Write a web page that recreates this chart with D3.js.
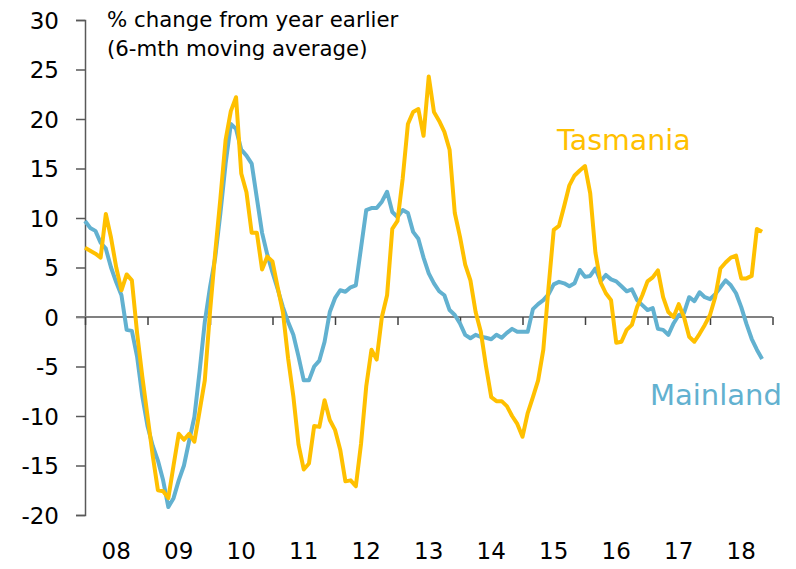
<!DOCTYPE html>
<html>
<head>
<meta charset="utf-8">
<script src="https://cdn.jsdelivr.net/npm/d3@7"></script>
<style>
  html, body { margin: 0; padding: 0; background: #ffffff; }
  svg { display: block; }
</style>
</head>
<body>
<div id="chart"></div>
<script>
// Monthly data, Jan 2008 onward (% change from year earlier, 6-mth moving average)
const startYear = 2008;
const yearLabels = ["08","09","10","11","12","13","14","15","16","17","18"];
const yTicks = [-20,-15,-10,-5,0,5,10,15,20,25,30];

const tasmania = [
  7.0, 6.7, 6.4, 6.0, 10.4, 8.0, 5.0, 2.7, 4.3, 3.7, -1.6, -6.0,
  -10.0, -14.0, -17.5, -17.6, -18.3, -15.0, -11.8, -12.4, -11.8, -12.6, -9.5, -6.4,
  0.5, 6.5, 12.0, 17.9, 20.8, 22.2, 14.5, 12.6, 8.5, 8.5, 4.8, 6.1,
  5.6, 3.0, 0.5, -4.2, -8.0, -12.9, -15.4, -14.8, -11.0, -11.1, -8.4, -10.4,
  -11.4, -13.4, -16.6, -16.5, -17.1, -12.8, -7.0, -3.3, -4.3, 0.0, 2.2, 8.9,
  9.7, 14.0, 19.5, 20.7, 21.0, 18.3, 24.3, 20.7, 19.8, 18.7, 16.9, 10.5,
  8.1, 5.3, 3.7, 0.5, -1.5, -5.0, -8.1, -8.5, -8.5, -9.0, -10.0, -10.8,
  -12.1, -9.7, -8.1, -6.4, -3.3, 3.0, 8.8, 9.2, 11.2, 13.3, 14.3, 14.8,
  15.25, 12.5, 6.5, 3.5, 2.4, 1.7, -2.6, -2.5, -1.3, -0.8, 1.0, 2.2,
  3.6, 4.0, 4.7, 2.0, 0.5, 0.0, 1.3, 0.0, -2.0, -2.5, -1.7, -0.8,
  0.2, 2.0, 4.9, 5.5, 6.0, 6.2, 3.9, 3.9, 4.15, 8.9, 8.6
];

const mainland = [
  9.7, 9.0, 8.7, 7.5, 6.9, 5.0, 3.5, 2.2, -1.3, -1.4, -4.0, -8.0,
  -11.0, -13.0, -14.5, -16.5, -19.2, -18.3, -16.5, -15.0, -12.5, -10.1, -5.5, -0.5,
  3.0, 6.0, 10.5, 15.5, 19.5, 19.0, 16.9, 16.3, 15.5, 12.0, 8.5, 6.3,
  4.5, 2.8, 1.0, -0.5, -1.8, -4.0, -6.4, -6.4, -5.0, -4.4, -2.5, 0.5,
  1.9, 2.7, 2.55, 3.0, 3.2, 7.0, 10.8, 11.0, 11.0, 11.65, 12.65, 10.6,
  10.1, 10.8, 10.5, 8.6, 7.9, 6.0, 4.4, 3.4, 2.6, 2.2, 0.7, 0.2,
  -0.65, -1.8, -2.15, -1.8, -2.0, -2.1, -2.25, -1.8, -2.1, -1.6, -1.2, -1.5,
  -1.5, -1.5, 0.8, 1.3, 1.7, 2.3, 3.3, 3.55, 3.4, 3.1, 3.4, 4.75,
  4.05, 4.15, 4.9, 3.6, 4.25, 3.8, 3.6, 3.1, 2.6, 2.8, 1.7, 1.2,
  0.7, 0.9, -1.2, -1.3, -1.8, -0.65, 0.2, 0.4, 2.0, 1.6, 2.5, 2.0,
  1.8, 2.3, 3.0, 3.7, 3.2, 2.4, 1.0, -0.7, -2.2, -3.3, -4.25
];

const W = 796, H = 569;
const FONT = "'DejaVu Sans', sans-serif";
const yellow = "#FFC000";
const blue = "#62B1D0";

const svg = d3.select("#chart").append("svg")
  .attr("width", W).attr("height", H);

const x = d3.scaleLinear().domain([0, yearLabels.length * 12]).range([85, 772.5]);
const y = d3.scaleLinear().domain([-20, 30]).range([515, 20]);

// Y axis
const yAxis = d3.axisLeft(y).tickValues(yTicks).tickSize(9).tickPadding(17)
  .tickFormat(d => String(d));
const gy = svg.append("g").attr("transform", `translate(${x(0)},0)`).call(yAxis);
gy.select(".domain").attr("stroke", "#595959").attr("stroke-width", 1.5);
gy.selectAll(".tick line").attr("stroke", "#595959").attr("stroke-width", 1.5);
gy.selectAll(".tick text").attr("font-family", FONT).attr("font-size", 23)
  .attr("fill", "#000").attr("dy", "0.36em");

// X axis at zero
const xTickVals = d3.range(0, yearLabels.length * 12 + 1, 12);
const xAxis = d3.axisBottom(x).tickValues(xTickVals).tickSize(8).tickFormat("").tickSizeOuter(0);
const gx = svg.append("g").attr("transform", `translate(0,${y(0)})`).call(xAxis);
gx.select(".domain").attr("stroke", "#808080").attr("stroke-width", 2.2)
  .attr("d", `M${x(0) - 9},0H${x(yearLabels.length * 12)}`);
gx.selectAll(".tick line").attr("stroke", "#404040").attr("stroke-width", 1.5);

// Year labels, centred within each year
svg.append("g").selectAll("text").data(yearLabels).join("text")
  .attr("x", (d, i) => x(i * 12 + 6))
  .attr("y", 559)
  .attr("text-anchor", "middle")
  .attr("font-family", FONT).attr("font-size", 23).attr("fill", "#000")
  .text(d => d);

// Lines
const line = d3.line().x((d, i) => x(i)).y(d => y(d));
svg.append("path").datum(mainland).attr("d", line)
  .attr("fill", "none").attr("stroke", blue).attr("stroke-width", 4)
  .attr("stroke-linejoin", "round");
svg.append("path").datum(tasmania).attr("d", line)
  .attr("fill", "none").attr("stroke", yellow).attr("stroke-width", 4)
  .attr("stroke-linejoin", "round");

// Title lines
svg.append("text").attr("x", 107).attr("y", 27)
  .attr("font-family", FONT).attr("font-size", 21.3).attr("fill", "#000")
  .text("% change from year earlier");
svg.append("text").attr("x", 107).attr("y", 56)
  .attr("font-family", FONT).attr("font-size", 21.3).attr("fill", "#000")
  .text("(6-mth moving average)");

// Series labels
svg.append("text").attr("x", 557).attr("y", 150)
  .attr("font-family", FONT).attr("font-size", 28.5).attr("fill", yellow)
  .text("Tasmania");
svg.append("text").attr("x", 650).attr("y", 405)
  .attr("font-family", FONT).attr("font-size", 29).attr("fill", blue)
  .text("Mainland");
</script>
</body>
</html>
